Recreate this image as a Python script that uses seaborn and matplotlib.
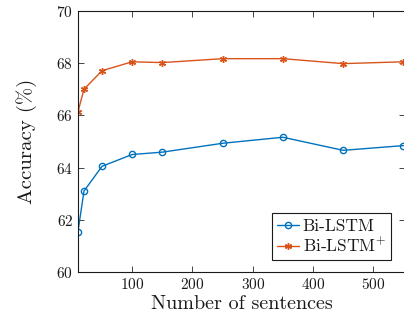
import numpy as np
import pandas as pd
import seaborn as sns
import matplotlib.pyplot as plt

sentences = [10, 20, 50, 100, 150, 250, 350, 450, 550]
bilstm = [61.55, 63.1, 64.05, 64.5, 64.59, 64.93, 65.16, 64.66, 64.84]
bilstm_plus = [66.14, 67.0, 67.71, 68.05, 68.02, 68.17, 68.17, 67.98, 68.05]
labels = ["Bi-LSTM", "Bi-LSTM$^{+}$"]

sns.set_theme(style="ticks")
plt.rcParams["font.family"] = "serif"
plt.rcParams["font.serif"] = ["cmr10", "DejaVu Serif"]
plt.rcParams["mathtext.fontset"] = "cm"
plt.rcParams["axes.formatter.use_mathtext"] = True
plt.rcParams["axes.unicode_minus"] = False

fig = plt.figure(figsize=(4.04, 3.2), dpi=100)
ax = fig.add_axes([0.193, 0.15, 0.81, 0.816])

sns.lineplot(x=sentences, y=bilstm, ax=ax, color="#0072BD", marker="o",
             markerfacecolor="none", markeredgecolor="#0072BD", markersize=4.5,
             markeredgewidth=1.0, linewidth=1.0, label=labels[0])
sns.lineplot(x=sentences, y=bilstm_plus, ax=ax, color="#D95319", marker=(6, 2, 0),
             markersize=5, markeredgewidth=1.0, markeredgecolor="#D95319",
             linewidth=1.0, label=labels[1])

ax.set_xlim(10, 553)
ax.set_ylim(60, 70)
ax.set_xticks([100, 200, 300, 400, 500])
ax.set_yticks([60, 62, 64, 66, 68, 70])
ax.tick_params(direction="in", top=True, right=True, labelsize=11, length=4,
               width=0.6, colors="#262626", labelcolor="#1a1a1a")
for s in ax.spines.values():
    s.set_linewidth(0.8)
    s.set_color("#1a1a1a")

ax.set_xlabel("Number of sentences", fontsize=14.5, labelpad=2, color="#1a1a1a")
ax.set_ylabel("Accuracy (%)", fontsize=15, labelpad=14, color="#1a1a1a")

leg = ax.legend(loc="lower right", bbox_to_anchor=(0.957, 0.045), fontsize=12.5,
                fancybox=False, edgecolor="#1a1a1a", framealpha=1,
                handlelength=1.25, borderpad=0.3, labelspacing=0.15,
                handletextpad=0.2, borderaxespad=0)
leg.get_frame().set_linewidth(0.8)
for t in leg.get_texts():
    t.set_color("#1a1a1a")

fig.savefig("out.png", dpi=100)
